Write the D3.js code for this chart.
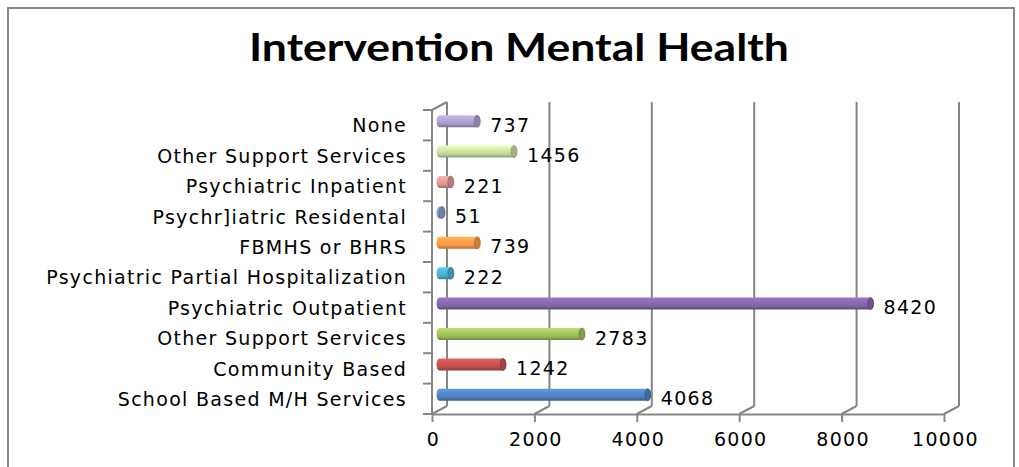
<!DOCTYPE html>
<html>
<head>
<meta charset="utf-8">
<script src="https://cdn.jsdelivr.net/npm/d3@7"></script>
<style>
  body { margin: 0; background: #fff; }
  svg { display: block; }
  .lbl { font-family: "DejaVu Sans", Verdana, sans-serif; font-size: 19px; letter-spacing: 1.3px; fill: #000; }
</style>
</head>
<body>
<svg id="chart"></svg>
<script>
// bottom to top, as in the sheet
var categories = [
    "School Based M/H Services",
    "Community Based",
    "Other Support Services",
    "Psychiatric Outpatient",
    "Psychiatric Partial Hospitalization",
    "FBMHS or BHRS",
    "Psychr]iatric Residental",
    "Psychiatric Inpatient",
    "Other Support Services",
    "None"
];
var values = [4068, 1242, 2783, 8420, 222, 739, 51, 221, 1456, 737];
var colors = ["#4F81BD", "#C0504D", "#9BBB59", "#8064A2", "#4BACC6",
    "#F79646", "#7F9BC6", "#D99694", "#C3D69B", "#A99BC8"];
var xTicks = [0, 2000, 4000, 6000, 8000, 10000];

var width = 1019;
var height = 467;

// 3d offset of the back wall
var dx = 15, dy = -8;
var gridColor = "#868686";

var svg = d3.select("#chart")
    .attr("width", width)
    .attr("height", height);

// outer chart border
svg.append("rect")
    .attr("x", 8).attr("y", 8)
    .attr("width", 1006).attr("height", 480)
    .attr("fill", "none")
    .attr("stroke", "#888")
    .attr("stroke-width", 2);

svg.append("text")
    .attr("x", 519)
    .attr("y", 61)
    .attr("text-anchor", "middle")
    .attr("textLength", 540)
    .attr("lengthAdjust", "spacingAndGlyphs")
    .style("font-family", "Lato, Calibri, sans-serif")
    .style("font-weight", "bold")
    .style("font-size", "38px")
    .text("Intervention Mental Health");

var x = d3.scaleLinear().domain([0, 10000]).range([432, 944]);
var y = d3.scaleBand().domain(d3.range(categories.length)).range([414, 110]);

var floorY = y.range()[0], topY = y.range()[1];

var grid = svg.append("g")
    .attr("stroke", gridColor)
    .attr("stroke-width", 2)
    .attr("fill", "none");

// back wall verticals
grid.selectAll(".gl")
    .data(xTicks)
    .enter()
    .append("line")
    .attr("x1", d => x(d) + dx).attr("x2", d => x(d) + dx)
    .attr("y1", topY + dy).attr("y2", floorY + dy);

// floor diagonals
grid.selectAll(".fd")
    .data(xTicks)
    .enter()
    .append("line")
    .attr("x1", d => x(d)).attr("x2", d => x(d) + dx)
    .attr("y1", floorY).attr("y2", floorY + dy);

// left wall: front edge + top diagonal
grid.append("line")
    .attr("x1", x(0)).attr("x2", x(0))
    .attr("y1", topY).attr("y2", floorY);
grid.append("line")
    .attr("x1", x(0)).attr("x2", x(0) + dx)
    .attr("y1", topY).attr("y2", topY + dy);

// category ticks at band edges
var edges = d3.range(categories.length + 1).map(i => floorY - i * y.step());
grid.selectAll(".ct")
    .data(edges)
    .enter()
    .append("line")
    .attr("x1", x(0) - 9).attr("x2", x(0))
    .attr("y1", d => d).attr("y2", d => d);

// bottom axis
var xAxis = d3.axisBottom(x)
    .tickValues(xTicks)
    .tickFormat(d3.format("d"))
    .tickSize(8)
    .tickPadding(11)
    .tickSizeOuter(0);

var axG = svg.append("g")
    .attr("transform", "translate(0," + floorY + ")")
    .call(xAxis);
axG.select(".domain").attr("stroke", gridColor).attr("stroke-width", 2);
axG.selectAll(".tick line").attr("stroke", gridColor).attr("stroke-width", 2);
axG.selectAll(".tick text")
    .attr("class", "lbl")
    .attr("fill", "#000")
    .attr("dy", "0.7em")
    .attr("dx", 1);
axG.attr("font-family", null).attr("font-size", null);

// category labels
svg.selectAll(".cat")
    .data(categories)
    .enter()
    .append("text")
    .attr("class", "lbl")
    .attr("x", 407)
    .attr("y", (d, i) => y(i) + y.bandwidth() / 2)
    .attr("dy", "0.38em")
    .attr("text-anchor", "end")
    .text(d => d);

// cylinder gradients
var defs = svg.append("defs");
colors.forEach((c, i) => {
    var g = defs.append("linearGradient")
        .attr("id", "cyl" + i)
        .attr("x1", 0).attr("y1", 0).attr("x2", 0).attr("y2", 1);
    g.append("stop").attr("offset", "0%").attr("stop-color", d3.color(c).brighter(0.5));
    g.append("stop").attr("offset", "35%").attr("stop-color", d3.color(c).brighter(0.25));
    g.append("stop").attr("offset", "70%").attr("stop-color", c);
    g.append("stop").attr("offset", "100%").attr("stop-color", d3.color(c).darker(0.9));
});

var r = 6, rx = 3;
var xMid = v => x(v) + dx / 2;
var yMid = i => y(i) + y.bandwidth() / 2 + dy / 2;

var bars = svg.selectAll(".bar")
    .data(values)
    .enter()
    .append("g")
    .classed("bar", true);

bars.append("path")
    .attr("fill", (d, i) => "url(#cyl" + i + ")")
    .attr("d", (d, i) => {
        var x0 = xMid(0), x1 = xMid(d), cy = yMid(i);
        return "M" + x0 + "," + (cy - r) +
            "L" + x1 + "," + (cy - r) +
            "A" + rx + "," + r + " 0 0 1 " + x1 + "," + (cy + r) +
            "L" + x0 + "," + (cy + r) +
            "A" + rx + "," + r + " 0 0 1 " + x0 + "," + (cy - r) + "Z";
    });

// end cap
bars.append("ellipse")
    .attr("cx", d => xMid(d))
    .attr("cy", (d, i) => yMid(i))
    .attr("rx", rx)
    .attr("ry", r)
    .attr("fill", (d, i) => d3.color(colors[i]).darker(0.5))
    .attr("stroke", (d, i) => d3.color(colors[i]).darker(1.2))
    .attr("stroke-width", 0.6);

// value labels
svg.selectAll(".val")
    .data(values)
    .enter()
    .append("text")
    .attr("class", "lbl")
    .attr("x", d => xMid(d) + rx + 10)
    .attr("y", (d, i) => y(i) + y.bandwidth() / 2)
    .attr("dy", "0.35em")
    .text(d => d);
</script>
</body>
</html>
